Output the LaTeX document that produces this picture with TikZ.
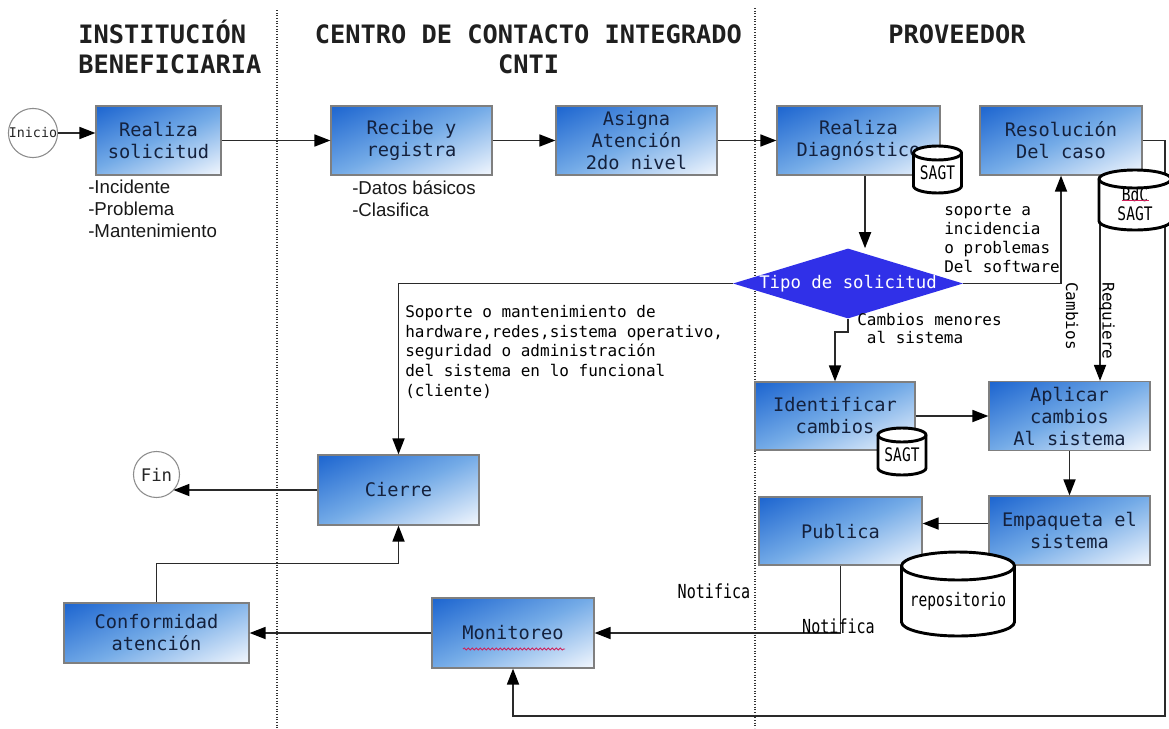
\documentclass[tikz,border=0pt]{standalone}
\usepackage{fontspec}
\setmainfont{Liberation Sans}
\newfontfamily\dmono{DejaVu Sans Mono}
\newfontfamily\dcond[FakeStretch=0.78]{DejaVu Sans Mono}
\usetikzlibrary{arrows.meta,shapes.geometric,calc,decorations.pathmorphing}

\definecolor{boxtop}{HTML}{1A63CF}
\definecolor{boxmid}{HTML}{74ABE7}
\definecolor{boxbot}{HTML}{F6F9FE}
\definecolor{boxedge}{HTML}{7F7F7F}
\definecolor{boxtext}{HTML}{14213D}
\definecolor{lineclr}{HTML}{2A2A2A}
\definecolor{diamondblue}{HTML}{3030E8}
\definecolor{spellred}{HTML}{D0205A}

% diagonal fade used to fill the process boxes
\pgfdeclareverticalshading{boxfade}{100bp}{color(0bp)=(boxbot); color(16bp)=(boxbot);
  color(50bp)=(boxmid); color(84bp)=(boxtop); color(100bp)=(boxtop)}

\tikzset{
  sz/.style 2 args={minimum width=#1*0.75pt, minimum height=#2*0.75pt},
  box/.style={draw=boxedge, line width=0.9pt, shade, shading=boxfade, shading angle=24, text=boxtext,
    font=\dmono\fontsize{14pt}{16.5pt}\selectfont, align=center, inner sep=0pt, sz={161}{69}},
  conn/.style={draw=lineclr, line width=1.3pt, -{Triangle[length=12pt,width=9pt,color=black]}},
  lane/.style={draw=black!80, line width=0.8pt, dash pattern=on 0.8pt off 1.2pt},
  hdr/.style={font=\dmono\bfseries\fontsize{19pt}{24pt}\selectfont, text=black!88, inner sep=0pt},
  note/.style={font=\dmono\fontsize{12pt}{14.25pt}\selectfont, align=left, inner sep=0pt,
    anchor=north west, text=black},
  list/.style={font=\fontsize{14pt}{16.5pt}\selectfont, align=left, inner sep=0pt,
    anchor=north west, text=black!90},
  terminal/.style={circle, draw=black!45, line width=0.8pt, fill=white, inner sep=0pt, text=black!85},
  drum/.style={draw=black, line width=2.2pt, fill=white, line join=round},
  drumtext/.style={font=\dcond\fontsize{14pt}{14.25pt}\selectfont, align=center, inner sep=0pt, text=black},
  notif/.style={font=\dcond\fontsize{14.5pt}{16pt}\selectfont, inner sep=0pt, text=black},
}

% database drum: name, centre x, top y, width, height, ellipse radius, text
\newcommand\dbdrum[7]{%
  \pgfmathsetmacro\dbRX{#4/2}%
  \pgfmathsetmacro\dbL{#2-#4/2}%
  \pgfmathsetmacro\dbR{#2+#4/2}%
  \pgfmathsetmacro\dbT{#3+#6}%
  \pgfmathsetmacro\dbB{#3+#5-#6}%
  \pgfmathsetmacro\dbM{#3+#5/2+#6/2}%
  \path[drum] (\dbL,\dbT) -- (\dbL,\dbB)
    arc[start angle=180,end angle=0,x radius=\dbRX,y radius=#6] -- (\dbR,\dbT)
    arc[start angle=0,end angle=-180,x radius=\dbRX,y radius=#6] -- cycle;
  \draw[drum, fill=none] (\dbL,\dbT) arc[start angle=180,end angle=0,x radius=\dbRX,y radius=#6];
  \node[drumtext] (#1) at (#2,\dbM) {#7};
}

\begin{document}
\begin{tikzpicture}[x=0.75pt,y=-0.75pt]
\fill[white] (0,0) rectangle (1169,728);
\useasboundingbox (0,0) rectangle (1169,728);

% swimlane separators
\draw[lane] (277,10) -- (277,728);
\draw[lane] (755,8) -- (755,728);

% lane headings
\node[hdr, anchor=base west] (hA1) at (78,43) {INSTITUCIÓN};
\node[hdr, anchor=base west] (hA2) at (78,73) {BENEFICIARIA};
\node[hdr, anchor=base] (hB1) at (528.5,43) {CENTRO DE CONTACTO INTEGRADO};
\node[hdr, anchor=base] (hB2) at (528.5,73) {CNTI};
\node[hdr, anchor=base] (hC1) at (957,43) {PROVEEDOR};

% start / end
\node[terminal, sz={47}{47}, font=\dmono\fontsize{10pt}{11pt}\selectfont] (ini) at (33,133) {Inicio};
\node[terminal, sz={46}{46}, font=\dmono\fontsize{13pt}{15pt}\selectfont] (fin) at (156.5,474.5) {Fin};

% process steps
\node[box, sz={125}{69}] (rs) at (158.5,140.5) {Realiza\\solicitud};
\node[box] (rr) at (411.5,140.5) {Recibe y\\registra};
\node[box] (as) at (636.5,140.5) {Asigna\\Atención\\2do nivel};
\node[box, sz={163}{69}] (dg) at (858.5,140.5) {Realiza\\Diagnóstico};
\node[box, sz={162}{69}] (rc) at (1061,140.5) {Resolución\\Del caso};
\node[box, sz={160}{68}] (ic) at (835,416) {Identificar\\cambios};
\node[box] (ap) at (1069.5,416) {Aplicar\\cambios\\Al sistema};
\node[box] (em) at (1069.5,530.5) {Empaqueta el\\sistema};
\node[box, sz={163}{68}] (pu) at (840.5,531) {Publica};
\node[box, sz={161}{70}] (ci) at (398.5,490) {Cierre};
\node[box, sz={162}{70}] (mo) at (513,633) {Monitoreo};
\node[box, sz={185}{60}] (cf) at (156.5,633) {Conformidad\\atención};

% decision
\node[diamond, fill=diamondblue, sz={230}{70}, inner sep=0pt] (td) at (848,283.5) {};
\node[font=\dmono\fontsize{13pt}{15pt}\selectfont, text=white, inner sep=0pt] (tdl) at (td.center) {Tipo de solicitud};

% connectors
\draw[conn] (ini.east) -- (ini.east -| rs.west);
\draw[conn] (rs.east) -- (rr.west);
\draw[conn] (rr.east) -- (as.west);
\draw[conn] (as.east) -- (dg.west);
\coordinate (dgx) at ($(dg.south)+(6.5,0)$);
\draw[conn] (dgx) -- (dgx |- td.north);
\draw[conn] (td.east) -| (rc.south);
\draw[conn] (td.west) -| (ci.north);
\draw[conn] (td.south) -- ++(0,13) -| (ic.north);
\coordinate (rq) at ($(rc.south)+(39,0)$);
\draw[conn] (rq) -- (rq |- ap.north);
\draw[conn] (ic.east) -- (ap.west);
\draw[conn] (ap.south) -- (em.north);
\coordinate (emw) at ($(em.west)+(0,-7)$);
\draw[conn] (emw) -- (emw -| pu.east);
\draw[conn] (pu.south) |- (mo.east);
\draw[conn] (mo.west) -- (cf.east);
\draw[conn] (cf.north) -- ++(0,-39) -| (ci.south);
\draw[conn] (ci.west) -- (ci.west -| fin.-44);
\coordinate (lp) at (1165,716);
\draw[conn] (rc.east) -| (lp) -| (mo.south);

% data stores
\dbdrum{sg1}{937.5}{146}{48}{47}{7}{SAGT}
\dbdrum{sg2}{902}{428}{48}{47}{7}{SAGT}
\dbdrum{bdc}{1135}{170}{72}{60}{9}{BdC\\SAGT}
\dbdrum{repo}{958}{552}{113}{84}{14}{repositorio}

% annotations
\node[list] (lrs) at (88,180) {-Incidente\\-Problema\\-Mantenimiento};
\node[list] (lrr) at (352,180) {-Datos básicos\\-Clasifica};
\node[note] (lsup) at (944,204) {soporte a\\incidencia\\o problemas\\Del software};
\node[note, font=\dmono\fontsize{12pt}{14.8pt}\selectfont] (lhw) at (405,305)
  {Soporte o mantenimiento de\\hardware,redes,sistema operativo,\\seguridad o administración\\del sistema en lo funcional\\(cliente)};
\node[note, font=\dmono\fontsize{12pt}{13.5pt}\selectfont] (lmin) at (857,313) {Cambios menores\\\hphantom{a}al sistema};
\node[note, anchor=center, rotate=-90] (lcb) at (1072,316) {Cambios};
\node[note, anchor=center, rotate=-90] (lrq) at (1107,321) {Requiere};
\node[notif] (nt1) at (714,591) {Notifica};
\node[notif] (nt2) at (838.5,626) {Notifica};

% spelling marks
\draw[spellred, line width=0.6pt, decorate, decoration={snake, amplitude=0.8pt, segment length=3pt}]
  ($(mo.center)+(-50,16)$) -- ($(mo.center)+(52,16)$);
\draw[spellred, line width=0.7pt] ($(bdc.center)+(-13.5,-4.5)$) -- ++(27,0);
\end{tikzpicture}
\end{document}
